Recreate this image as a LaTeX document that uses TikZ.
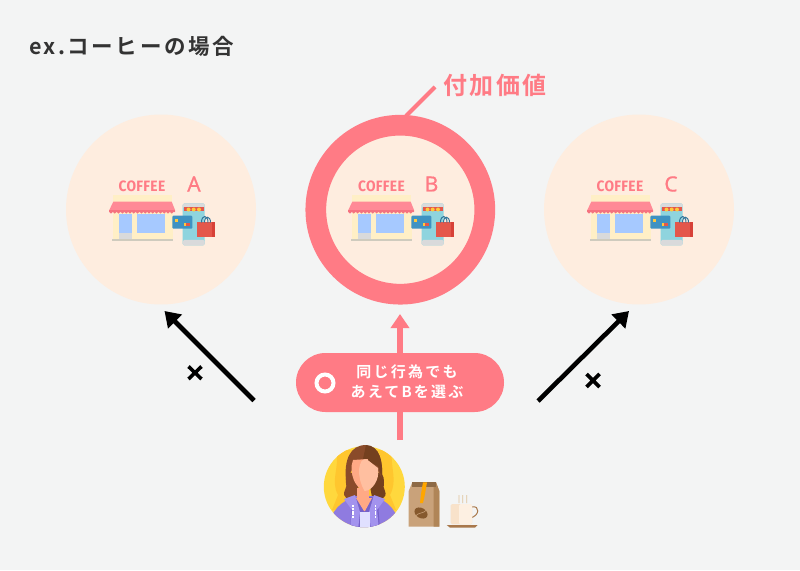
\documentclass[tikz,border=0pt]{standalone}
\usepackage{fontspec}
\setmainfont{Noto Sans}
\newfontfamily\jptitle[LetterSpace=12]{Noto Sans CJK JP Bold}
\newfontfamily\jppill[LetterSpace=15]{Noto Sans CJK JP Bold}
\newfontfamily\jpwide[LetterSpace=10]{Noto Sans CJK JP Bold}
\newfontfamily\latmed[FakeBold=0.6]{Noto Sans}
\newfontfamily\latsp[LetterSpace=2]{Fira Sans}
\usetikzlibrary{arrows.meta}
\definecolor{bgc}{HTML}{F3F4F4}
\definecolor{peach}{HTML}{FEEDDF}
\definecolor{pk}{HTML}{FF7B85}
\definecolor{ink}{HTML}{333333}
\definecolor{cream}{HTML}{FFEFC6}
\definecolor{roof}{HTML}{FF8A96}
\definecolor{roofd}{HTML}{F5727F}
\definecolor{winb}{HTML}{A6C9FF}
\definecolor{gr1}{HTML}{D9DADB}
\definecolor{gr2}{HTML}{CFCBBE}
\definecolor{phone}{HTML}{8FD4DE}
\definecolor{redb}{HTML}{E4574B}
\definecolor{yel}{HTML}{FFC83D}
\definecolor{cardb}{HTML}{3F92C2}
\definecolor{HTMLyel1}{HTML}{FFD83D}
\definecolor{HTMLyel2}{HTML}{FFC62E}
\definecolor{hair1}{HTML}{8A4B2A}
\definecolor{hair2}{HTML}{74401F}
\definecolor{purp1}{HTML}{8F7BE0}
\definecolor{purp2}{HTML}{7561C9}
\definecolor{purp3}{HTML}{A393EE}
\definecolor{skin1}{HTML}{FFA985}
\definecolor{skin2}{HTML}{FFBFA0}
\definecolor{bagc}{HTML}{C9A27A}
\definecolor{bagd}{HTML}{B08557}
\definecolor{cup1}{HTML}{FDF0E2}
\definecolor{cup2}{HTML}{F8E2CA}
\definecolor{cup3}{HTML}{E0C39A}
\definecolor{cuphandle}{HTML}{A9784B}
\tikzset{
  shopc/.style={circle,fill=peach,draw=none,minimum size=190pt,inner sep=0pt},
  ringc/.style={circle,fill=peach,draw=pk,line width=20.7pt,minimum size=169pt,inner sep=0pt,outer sep=0pt},
  coffee/.style={font=\latsp\bfseries\fontsize{15}{16}\selectfont,text=pk,inner sep=0pt,xscale=.92},
  letter/.style={font=\latmed\fontsize{21}{22}\selectfont,text=pk,inner sep=0pt},
  blackarrow/.style={line width=4.6pt,-{Triangle[length=15pt,width=19pt]},black},
  pinkarrow/.style={line width=5.4pt,pk,-{Triangle[length=14pt,width=18pt]}},
  cross/.style={line width=3.6pt,black},
  shopicon/.pic={
    \fill[cream] (112.7,194.5) rectangle (171.7,203);
    \fill[cream] (112.7,212) rectangle (172.7,239);
    \fill[roof] (113.3,201.7) -- (171.7,201.7) -- (175,210) -- (175,212) -- (109.3,212) -- (109.3,210) -- cycle;
    \fill[roofd] (109.3,209.5) rectangle (175,212);
    \foreach \xx in {111,114.8,118.6,122.4,126.2,130,133.8,137.6,141.4,145.2,149,152.8,156.6,160.4,164.2,168,171.8}{\fill[roofd] (\xx,212) circle (1.6pt);}
    \fill[winb] (119.3,214) rectangle (132.3,232.7);
    \fill[gr1] (119.3,232.7) rectangle (132.3,238.5);
    \fill[winb] (136.7,214) rectangle (165,232.7);
    \fill[gr2] (111.7,239) rectangle (173.3,241.2);
    \fill[phone,rounded corners=1.5pt] (182.7,203.3) rectangle (204.7,245.3);
    \fill[gr1,rounded corners=1.5pt] (182.7,239.8) rectangle (204.7,245.3);
    \fill[gr1,rounded corners=1.5pt] (182.7,203.3) rectangle (204.7,208);
    \fill[redb] (183.5,207) rectangle (204,211);
    \foreach \xx in {188.5,193.7,199}{\fill[yel] (\xx,209.5) circle (2pt);}
    \fill[cardb,rounded corners=1pt] (172.3,215.7) rectangle (192.3,228.7);
    \fill[yel] (175,219) rectangle (177.7,221.7);
    \fill[redb] (186,223) rectangle (189.5,225.5);
    \fill[yel] (184,223) rectangle (186,225.5);
    \fill[redb] (197.3,222.3) rectangle (215,237.3);
    \fill[red!70!black,opacity=.25] (211.5,222.3) rectangle (215,237.3);
    \draw[line width=1pt,cardb!80!black] (201.5,222.5) .. controls (201.5,214.5) and (208,214.5) .. (208,222.5);
    \draw[line width=1pt,cardb!80!black] (204.5,222.5) .. controls (204.5,215.5) and (210.5,215.5) .. (210.5,222.5);
  }
}
\begin{document}
\begin{tikzpicture}[x=1pt,y=-1pt]
\useasboundingbox (0,0) rectangle (800,570);
\fill[bgc] (0,0) rectangle (800,570);
% title
\node[anchor=west,inner sep=0pt,font=\jptitle\fontsize{21.5}{23}\selectfont,text=ink] (title) at (29,46) {ex.コーヒーの場合};
% circles
\node[shopc] (shopA) at (161,209.5) {};
\node[ringc] (shopB) at (400.3,209.7) {};
\node[shopc] (shopC) at (639,209.5) {};
% icons
\pic at (0,0) {shopicon};
\pic at (239,0) {shopicon};
\pic at (478,0) {shopicon};
\node[coffee] (coffeeA) at (142,186) {COFFEE};
\node[coffee] (coffeeB) at (381.5,186) {COFFEE};
\node[coffee] (coffeeC) at (620,186) {COFFEE};
\node[letter] (letA) at (194,184) {A};
\node[letter] (letB) at (431.5,184) {B};
\node[letter] (letC) at (671,184) {C};
% value label
\node[inner sep=0pt,font=\jpwide\fontsize{24}{25}\selectfont,text=pk] (value) at (495,85) {付加価値};
\coordinate (leadEnd) at (435,87);
\coordinate (leadStart) at (406,116);
\draw[pk,line width=4pt] (leadStart) -- (leadEnd);
% pink arrow and pill
\coordinate (personTop) at (400,440);
\coordinate (pinkTip) at (400,314);
\draw[pinkarrow] (personTop) -- (pinkTip);
\node[fill=pk,draw=none,rounded corners=29.5pt,minimum width=208pt,minimum height=59pt,inner sep=0pt] (pill) at (400,382.5) {};
\node[circle,draw=white,line width=4pt,minimum size=17pt,inner sep=0pt] (okmark) at (325,383) {};
\node[align=center,text=white,inner sep=0pt,font=\jppill\fontsize{15}{20}\selectfont] (pilltext) at (407,382) {同じ行為でも\\あえてBを選ぶ};
% black arrows
\coordinate (lstart) at (254,400.5);
\coordinate (ltip) at (164.5,311);
\coordinate (rstart) at (538,401);
\coordinate (rtip) at (629,311);
\draw[blackarrow] (lstart) -- (ltip);
\draw[blackarrow] (rstart) -- (rtip);
\draw[cross] (188.5,366.5) -- (201.5,379) (201.5,366.5) -- (188.5,379);
\draw[cross] (586.5,374) -- (599.5,387) (599.5,374) -- (586.5,387);
% person icon
\begin{scope}
\clip (364.3,486.7) circle (40.5pt);
\fill[HTMLyel1] (323,445) rectangle (406,528);
\fill[HTMLyel2] (336,450) .. controls (340,468) and (330,480) .. (338,495) -- (332,510) -- (396,510) -- (390,495) .. controls (398,480) and (390,468) .. (392,450) -- cycle;
% hair waves behind the face
\fill[hair1] (349,472) .. controls (342,480) and (349,485) .. (345,490) .. controls (341,497) and (349,503) .. (357,497) -- (360,476) -- cycle;
\fill[hair2] (380,472) .. controls (388,480) and (381,486) .. (385,491) .. controls (388,498) and (379,503) .. (372,497) -- (368,476) -- cycle;
% hoodie
\fill[purp1] (328,530) .. controls (330,510) and (342,501) .. (356,496) -- (373,496) .. controls (388,501) and (398,510) .. (400,530) -- cycle;
\fill[purp2] (350,530) -- (352,502) -- (358,497) -- (372,497) -- (378,502) -- (380,530) -- cycle;
\fill[purp3] (344,499) -- (355,495) -- (360,512) -- (358,530) -- (350,530) -- (352,510) -- cycle;
\fill[purp3] (385,499) -- (374,495) -- (369,512) -- (371,530) -- (379,530) -- (377,510) -- cycle;
\fill[skin1] (357,488) rectangle (369,500);
\fill[skin1] (356,498) -- (372,498) -- (365,511) -- (364,511) -- cycle;
\fill[white!88!blue] (359.5,512) rectangle (369.5,530);
\draw[white,line width=1.6pt,dash pattern=on 2pt off .8pt] (353,505) -- (353,518);
\draw[white,line width=1.6pt,dash pattern=on 2pt off .8pt] (375.5,505) -- (375.5,518);
\end{scope}
% head
\fill[hair1] (346,480) .. controls (344,460) and (350,445) .. (366,445) .. controls (380,446) and (383,462) .. (382,478) -- (376,468) -- (352,470) -- cycle;
\fill[hair2] (366,445) .. controls (380,446) and (383,462) .. (382,478) -- (378,466) -- (363,459) -- cycle;
\fill[skin1] (351.5,466) -- (353,460) -- (368,459) -- (366,491) .. controls (358,490) and (351,480) .. (351.5,466) -- cycle;
\fill[skin2] (359,470) .. controls (360,462) and (362,458) .. (367,459.5) -- (378,468) .. controls (380,480) and (372,491) .. (364.5,491) .. controls (361,485) and (359,478) .. (359,470) -- cycle;
% coffee bag
\fill[bagc] (408.7,491) -- (412.3,482.3) -- (436,482.3) -- (439.3,491) -- (439.3,526.7) -- (408.7,526.7) -- cycle;
\fill[bagd] (433.5,482.3) -- (436,482.3) -- (439.3,491) -- (439.3,526.7) -- (433.5,526.7) -- cycle;
\fill[bagd!80!black] (412.3,482.3) rectangle (436,487);
\fill[orange!70!yellow] (423,482.3) -- (427,482.3) -- (425,494) -- (423,503) -- (420,503) -- (421,494) -- cycle;
\fill[brown!70!black,rotate around={-30:(421,513)}] (421,513) ellipse (7pt and 5pt);
\draw[bagc,line width=.6pt] (415.5,516) .. controls (419,512) and (423,514) .. (426.5,510);
% cup
\draw[cuphandle,line width=1pt] (472,507) .. controls (480,505) and (480,516) .. (470,518);
\fill[cup2,rounded corners=1.5pt] (450.7,504) rectangle (472,524.3);
\fill[cup1,rounded corners=1.5pt] (459,504) rectangle (472,524.3);
\fill[cuphandle] (446.7,525) -- (477.7,525) -- (475,527.7) -- (450,527.7) -- cycle;
\draw[cup3,line width=.8pt] (459,503) .. controls (457.5,500) and (460.5,498) .. (459,495);
\draw[cup3,line width=.8pt] (462.7,503) .. controls (461.2,500) and (464.2,498) .. (462.7,495);
\draw[cup3,line width=.8pt] (466.7,503) .. controls (465.2,500) and (468.2,498) .. (466.7,495);
\end{tikzpicture}
\end{document}
